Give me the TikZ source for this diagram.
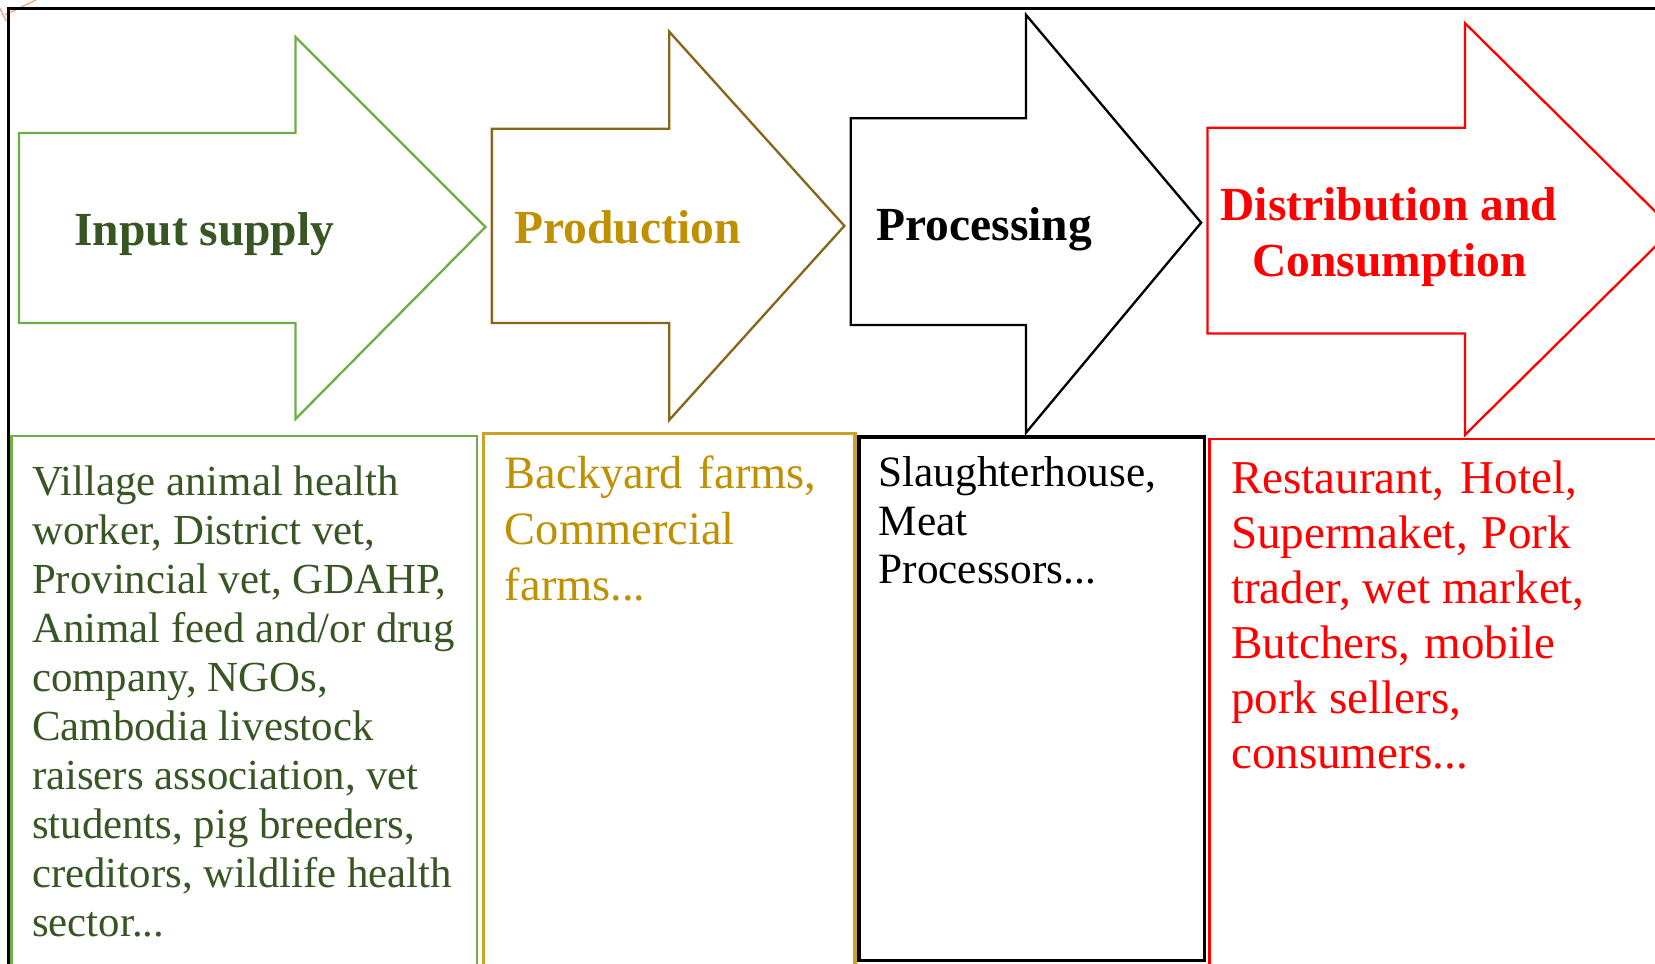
\documentclass[tikz,border=0pt]{standalone}
\usepackage{fontspec}
\setmainfont{Liberation Serif}
\definecolor{ingreen}{HTML}{70AD47}
\definecolor{intext}{HTML}{375623}
\definecolor{prodline}{HTML}{86661A}
\definecolor{prodtext}{HTML}{BF9000}
\definecolor{prodbox}{HTML}{C9A227}
\definecolor{dred}{HTML}{FF0000}
\definecolor{corner}{HTML}{F4A27A}
\begin{document}
\begin{tikzpicture}[x=0.5pt,y=-0.5pt,
  arrowshape/.style={line width=1.1pt, line join=miter, fill=white},
  boxshape/.style={line width=1.3pt},
  headtext/.style={font=\fontsize{22.5}{26}\selectfont\bfseries, anchor=base west, inner sep=0pt},
  greentext/.style={font=\fontsize{20.3}{23}\selectfont, anchor=base west, inner sep=0pt, text=intext},
  goldtext/.style={font=\fontsize{22}{26}\selectfont, anchor=base west, inner sep=0pt, text=prodtext},
  blacktext/.style={font=\fontsize{20.5}{23}\selectfont, anchor=base west, inner sep=0pt, text=black},
  redtext/.style={font=\fontsize{22.3}{26}\selectfont, anchor=base west, inner sep=0pt, text=dred}]
\useasboundingbox (0,0) rectangle (1568,913);
\clip (0,0) rectangle (1568,913);
\fill[white] (0,0) rectangle (1568,913);

% corner fragment
\draw[corner, line width=0.6pt] (34,0) -- (5,14);
\draw[corner, line width=0.6pt] (0,8) -- (6,20);

% outer frame
\draw[black, line width=1.2pt] (8,913) -- (8,8) -- (1570,8);

% arrows
\draw[arrowshape, draw=ingreen] (18,126) -- (280,126) -- (280,35) -- (460,215) -- (280,397) -- (280,306) -- (18,306) -- cycle;
\draw[arrowshape, draw=prodline] (466,122) -- (634,122) -- (634,30) -- (800,214) -- (634,398) -- (634,306) -- (466,306) -- cycle;
\draw[arrowshape, draw=black] (806,112) -- (972,112) -- (972,14) -- (1138,211) -- (972,410) -- (972,308) -- (806,308) -- cycle;
\draw[arrowshape, draw=dred] (1144,121) -- (1388,121) -- (1388,22) -- (1585,217) -- (1388,412) -- (1388,316) -- (1144,316) -- cycle;

% boxes
\draw[boxshape, draw=ingreen] (11,930) -- (11,413) -- (452,413) -- (452,930);
\draw[boxshape, draw=prodbox, line width=1.5pt] (458,930) -- (458,411) -- (810,411) -- (810,930);
\draw[boxshape, draw=black, line width=1.6pt] (814,414) rectangle (1141,910);
\draw[boxshape, draw=dred] (1146,930) -- (1146,416) -- (1580,416);

% headers
\node[headtext, text=intext] (h1) at (70,233) {Input supply};
\node[headtext, text=prodtext] (h2) at (487,231) {Production};
\node[headtext, text=black] (h3) at (830,228) {Processing};
\node[headtext, text=dred] (h4a) at (1156,209) {Distribution and};
\node[headtext, text=dred] (h4b) at (1186,262) {Consumption};

% green text
\node[greentext] (g1) at (30,469) {Village animal health};
\node[greentext] (g2) at (30,515.5) {worker, District vet,};
\node[greentext] (g3) at (30,562) {Provincial vet, GDAHP,};
\node[greentext] (g4) at (30,608.5) {Animal feed and/or drug};
\node[greentext] (g5) at (30,655) {company, NGOs,};
\node[greentext] (g6) at (30,701.5) {Cambodia livestock};
\node[greentext] (g7) at (30,748) {raisers association, vet};
\node[greentext] (g8) at (30,794.5) {students, pig breeders,};
\node[greentext] (g9) at (30,841) {creditors, wildlife health};
\node[greentext] (g10) at (30,887.5) {sector...};

% gold text
\node[goldtext] (p1) at (478,463) {\hbox to 147.5pt{Backyard\hfill farms,}};
\node[goldtext] (p2) at (478,516) {Commercial};
\node[goldtext] (p3) at (478,569) {farms...};

% black text
\node[blacktext] (s1) at (832,461) {Slaughterhouse,};
\node[blacktext] (s2) at (832,507) {Meat};
\node[blacktext] (s3) at (832,553) {Processors...};

% red text
\node[redtext] (r1) at (1166,468) {Restaurant,\hspace{0.35em}Hotel,};
\node[redtext] (r2) at (1166,520) {Supermaket,\hspace{0.3em}Pork};
\node[redtext] (r3) at (1166,572) {trader, wet market,};
\node[redtext] (r4) at (1166,624) {Butchers,\hspace{0.3em}mobile};
\node[redtext] (r5) at (1166,676) {pork sellers,};
\node[redtext] (r6) at (1166,728) {consumers...};
\end{tikzpicture}
\end{document}
